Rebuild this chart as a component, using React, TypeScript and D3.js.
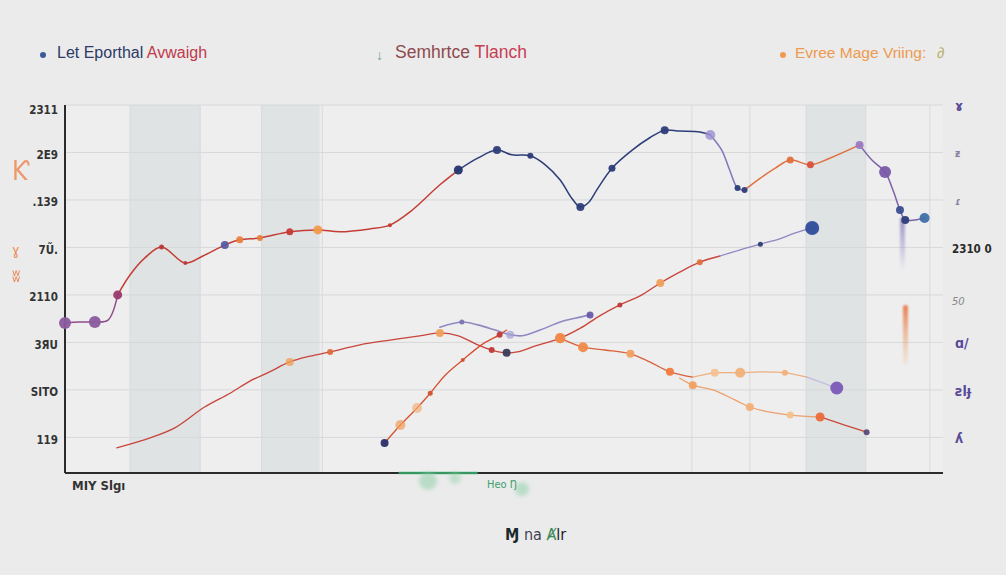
import React from "react";
import * as d3 from "d3";

// ---------- DATA ----------
const yTickValues = [7, 6, 5, 4, 3, 2, 1, 0];
const yTickLabels = ["2311", "2E9", ".139", "7Ũ.", "2110", "3ЯU", "SITO", "119"];
const rightLabels = ["2310 0", "50"];
const rightLabelValues = [3.95, 2.85];
const bandRanges: [number, number][] = [[7.4, 15.4], [22.4, 29.0], [84.4, 91.2]];
const vGridValues = [7.4, 15.4, 22.4, 29.3, 71.4, 78.0, 84.4, 91.2, 98.5];

const legendNames = ["Let Eporthal ", "Avwaigh", "Semhrtce ", "Tlanch", "Evree Mage Vriing:"];

const seriesTop: [number, number][] = [
  [0, 2.41], [1.7, 2.43], [3.4, 2.43], [4.9, 2.47], [6.0, 3.0], [7.4, 3.42], [9.1, 3.78],
  [11.0, 4.01], [13.7, 3.67], [15.7, 3.82], [18.2, 4.05], [19.9, 4.16], [22.2, 4.2],
  [25.6, 4.33], [28.8, 4.37], [31.3, 4.33], [34.7, 4.39], [37.0, 4.47], [39.3, 4.75],
  [42.7, 5.32], [44.8, 5.63], [47.0, 5.88], [49.2, 6.05], [50.9, 5.95], [53.0, 5.93],
  [54.7, 5.74], [56.4, 5.42], [57.7, 5.04], [58.7, 4.85], [59.6, 4.94], [60.7, 5.25],
  [62.3, 5.67], [64.6, 6.05], [66.6, 6.31], [68.3, 6.47], [70.0, 6.45], [72.3, 6.43],
  [73.5, 6.37], [74.8, 6.05], [75.7, 5.63], [76.6, 5.25], [77.4, 5.21], [79.2, 5.46],
  [80.9, 5.67], [82.6, 5.84], [84.9, 5.74], [87.1, 5.88], [90.5, 6.16], [91.9, 5.84],
  [93.4, 5.59], [94.3, 5.21], [95.1, 4.79], [95.7, 4.58], [96.8, 4.58], [97.9, 4.62],
];

const seriesRise: [number, number][] = [
  [5.9, -0.22], [9.7, -0.01], [12.5, 0.2], [15.9, 0.64], [18.8, 0.93], [21.1, 1.19],
  [23.3, 1.38], [25.6, 1.59], [27.9, 1.71], [30.2, 1.8], [33.6, 1.95], [37.0, 2.05],
  [40.4, 2.14], [42.7, 2.2], [44.8, 2.14], [47.0, 1.95], [48.6, 1.84], [50.3, 1.78],
  [51.5, 1.8], [53.5, 1.92], [56.4, 2.09], [58.7, 2.3], [60.9, 2.56], [63.2, 2.79],
  [65.5, 2.98], [67.8, 3.25], [70.0, 3.48], [72.3, 3.69], [74.6, 3.82], [76.9, 3.95],
  [79.2, 4.07], [81.4, 4.18], [83.1, 4.3], [85.1, 4.41],
];

const seriesPurple: [number, number][] = [
  [42.7, 2.32], [45.2, 2.43], [47.0, 2.37], [49.0, 2.26], [50.7, 2.16], [52.1, 2.14],
  [54.1, 2.26], [56.4, 2.43], [58.1, 2.51], [59.8, 2.58],
];

const seriesSteep: [number, number][] = [
  [36.4, -0.12], [38.2, 0.26], [40.1, 0.62], [41.6, 0.93], [43.3, 1.31], [45.3, 1.63],
  [47.6, 1.97], [49.5, 2.16], [50.3, 2.26],
];

const seriesFall: [number, number][] = [
  [56.4, 2.09], [59.0, 1.9], [61.5, 1.84], [64.4, 1.76], [66.6, 1.59], [68.9, 1.38],
  [71.5, 1.27], [74.0, 1.36], [76.9, 1.36], [79.2, 1.38], [82.0, 1.36], [84.5, 1.27],
  [87.9, 1.04],
];

const seriesBranch: [number, number][] = [
  [70.0, 1.25], [71.5, 1.1], [73.8, 1.0], [76.3, 0.79], [78.0, 0.64], [80.3, 0.53],
  [82.6, 0.47], [86.0, 0.43], [88.8, 0.26], [91.3, 0.11],
];

// ---------- STYLE ----------
type Seg = { from: number; to: number; color: string; opacity?: number };
type Mark = { i: number; r: number; color: string; opacity?: number };
type SeriesStyle = { data: [number, number][]; segs: Seg[]; marks: Mark[]; width: number };

const styles: SeriesStyle[] = [
  {
    data: seriesTop,
    width: 1.5,
    segs: [
      { from: 0, to: 4, color: "#8e4f8a" },
      { from: 4, to: 20, color: "#c43e35" },
      { from: 20, to: 37, color: "#2d3d78" },
      { from: 37, to: 41, color: "#7e77b8" },
      { from: 41, to: 47, color: "#e0703e" },
      { from: 47, to: 54, color: "#7c63a8" },
    ],
    marks: [
      { i: 0, r: 6, color: "#8a5a9e" }, { i: 2, r: 6, color: "#8a5a9e" },
      { i: 4, r: 4.5, color: "#9a3a6a" }, { i: 7, r: 2.5, color: "#b83a3a" },
      { i: 8, r: 2, color: "#b83a3a" }, { i: 10, r: 4, color: "#5a5aa0" },
      { i: 11, r: 3.5, color: "#e9803e" }, { i: 12, r: 3, color: "#e9803e" },
      { i: 13, r: 3.5, color: "#c63a35" }, { i: 14, r: 4.5, color: "#f09a4a" },
      { i: 17, r: 2, color: "#c63a35" }, { i: 20, r: 4.5, color: "#22336e" },
      { i: 22, r: 4, color: "#2d3d78" }, { i: 24, r: 3, color: "#2d3d78" },
      { i: 28, r: 4, color: "#2d3d78" }, { i: 31, r: 3.5, color: "#2d3d78" },
      { i: 34, r: 4, color: "#2d3d78" }, { i: 37, r: 5, color: "#9c8ed0", opacity: 0.8 },
      { i: 40, r: 3, color: "#2d3d78" }, { i: 41, r: 3, color: "#2d3d78" },
      { i: 44, r: 3.5, color: "#e0703e" }, { i: 45, r: 3.5, color: "#d9503a" },
      { i: 47, r: 4, color: "#9a7ac0" }, { i: 49, r: 6, color: "#7a58a8" },
      { i: 51, r: 4, color: "#3a4f8f" }, { i: 52, r: 4, color: "#2d3d78" },
      { i: 54, r: 5, color: "#3f6fa8" },
    ],
  },
  {
    data: seriesRise,
    width: 1.3,
    segs: [
      { from: 0, to: 28, color: "#c9443a" },
      { from: 28, to: 33, color: "#8e88c0" },
    ],
    marks: [
      { i: 7, r: 4, color: "#f0a05a", opacity: 0.8 }, { i: 9, r: 3, color: "#e06a3a" },
      { i: 13, r: 4, color: "#f0a05a" }, { i: 16, r: 3, color: "#c03a3a" },
      { i: 17, r: 4, color: "#3a3a5a" }, { i: 20, r: 5, color: "#f08a4a" },
      { i: 23, r: 2.5, color: "#c03a3a" }, { i: 25, r: 4, color: "#f0a05a" },
      { i: 27, r: 3, color: "#e0703e" }, { i: 30, r: 2.5, color: "#2d3d78" },
      { i: 33, r: 7, color: "#2f4c9a" },
    ],
  },
  {
    data: seriesPurple,
    width: 1.6,
    segs: [{ from: 0, to: 9, color: "#8f89c2" }],
    marks: [
      { i: 1, r: 2.5, color: "#7a74b0" }, { i: 4, r: 4, color: "#a49ed4", opacity: 0.7 },
      { i: 9, r: 3.5, color: "#6a5aa8" },
    ],
  },
  {
    data: seriesSteep,
    width: 1.3,
    segs: [{ from: 0, to: 8, color: "#d4512f" }],
    marks: [
      { i: 0, r: 4, color: "#2a2e6a" }, { i: 1, r: 5, color: "#f2a060", opacity: 0.75 },
      { i: 2, r: 5, color: "#f2b27a", opacity: 0.7 }, { i: 3, r: 2.5, color: "#d4512f" },
      { i: 5, r: 2, color: "#d4512f" }, { i: 7, r: 3, color: "#c03a3a" },
    ],
  },
  {
    data: seriesFall,
    width: 1.3,
    segs: [
      { from: 0, to: 6, color: "#d9603a" },
      { from: 6, to: 11, color: "#eeb07e" },
      { from: 11, to: 12, color: "#b9b0dc", opacity: 0.8 },
    ],
    marks: [
      { i: 0, r: 5, color: "#f08a4a" }, { i: 1, r: 5, color: "#f08a4a" },
      { i: 3, r: 4, color: "#f0a060" }, { i: 5, r: 4, color: "#f07a3e" },
      { i: 7, r: 4, color: "#f3c090" }, { i: 8, r: 5, color: "#f1b07a" },
      { i: 10, r: 3, color: "#f1b07a" }, { i: 12, r: 6.5, color: "#7a58b8" },
    ],
  },
  {
    data: seriesBranch,
    width: 1.3,
    segs: [
      { from: 0, to: 7, color: "#eca06c" },
      { from: 7, to: 9, color: "#c84a3a" },
    ],
    marks: [
      { i: 1, r: 4, color: "#f0a060" }, { i: 4, r: 4, color: "#f0b07a" },
      { i: 6, r: 3.5, color: "#f3c090" }, { i: 7, r: 4.5, color: "#ec6a3a" },
      { i: 9, r: 3, color: "#5a4a7a" },
    ],
  },
];

const W = 1006;
const H = 575;
const left = 65, right = 943, top = 105, bottom = 473;

export default function App() {
  const x = d3.scaleLinear().domain([0, 100]).range([left, right]);
  const y = d3.scaleLinear().domain([-0.75, 7]).range([bottom, top]);
  const line = d3
    .line<[number, number]>()
    .x((d) => x(d[0]))
    .y((d) => y(d[1]))
    .curve(d3.curveCatmullRom.alpha(0.5));

  const tickFont = "'DejaVu Sans Condensed','Liberation Sans Narrow','Liberation Sans',sans-serif";
  const legendFont = "'Liberation Sans', Arial, sans-serif";

  return (
    <svg
      width={W}
      height={H}
      style={{ position: "absolute", left: 0, top: 0, display: "block" }}
    >
      <defs>
        <filter id="blur2" x="-50%" y="-50%" width="200%" height="200%">
          <feGaussianBlur stdDeviation="2" />
        </filter>
        <filter id="blur1" x="-50%" y="-50%" width="200%" height="200%">
          <feGaussianBlur stdDeviation="0.8" />
        </filter>
        <linearGradient id="purpleStreak" x1="0" y1="0" x2="0" y2="1">
          <stop offset="0" stopColor="#8a80c0" stopOpacity="0.8" />
          <stop offset="1" stopColor="#8a80c0" stopOpacity="0" />
        </linearGradient>
        <linearGradient id="orangeStreak" x1="0" y1="0" x2="0" y2="1">
          <stop offset="0" stopColor="#e8703a" stopOpacity="0.9" />
          <stop offset="1" stopColor="#f0c090" stopOpacity="0.2" />
        </linearGradient>
      </defs>
      <rect width={W} height={H} fill="#ebebeb" />
      <rect x={left} y={top} width={right - left} height={bottom - top} fill="#eeeeef" />

      {bandRanges.map((b, i) => (
        <rect key={i} x={x(b[0])} y={top} width={x(b[1]) - x(b[0])} height={bottom - top} fill="#dfe3e4" />
      ))}

      {yTickValues.map((v) => (
        <line key={v} x1={left} x2={right} y1={y(v)} y2={y(v)} stroke="#d6d8d9" strokeWidth={1} />
      ))}
      {vGridValues.map((v) => (
        <line key={v} x1={x(v)} x2={x(v)} y1={top} y2={bottom} stroke="#d8dadb" strokeWidth={1} />
      ))}

      {/* axes */}
      <line x1={left} x2={left} y1={top} y2={bottom} stroke="#2b2b2b" strokeWidth={2} />
      <line x1={left} x2={right} y1={bottom} y2={bottom} stroke="#2b2b2b" strokeWidth={2} />
      <line x1={x(38)} x2={x(47)} y1={bottom} y2={bottom} stroke="#3aaa6a" strokeWidth={2.5} opacity={0.85} />

      {/* tick labels */}
      {yTickValues.map((v, i) => (
        <text
          key={v}
          x={58}
          y={y(v) + (i === 0 ? 5 : 3)}
          textAnchor="end"
          dominantBaseline="middle"
          fontFamily={tickFont}
          fontSize={11.5}
          fontWeight={700}
          fill="#333"
        >
          {yTickLabels[i]}
        </text>
      ))}
      {rightLabels.map((t, i) => (
        <text
          key={t}
          x={952}
          y={y(rightLabelValues[i])}
          dominantBaseline="middle"
          fontFamily={tickFont}
          fontSize={i === 0 ? 11.5 : 11}
          fontWeight={i === 0 ? 700 : 400}
          fontStyle={i === 0 ? "normal" : "italic"}
          fill={i === 0 ? "#2a2a2a" : "#888"}
        >
          {t}
        </text>
      ))}

      {/* decorative glyphs on right side */}
      {[["ɤ", 7], ["ƶ", 6], ["ɾ", 5], ["ɑ/", 2], ["ƨlɟ", 1], ["ʎ", 0]].map(([g, v], i) => (
        <text key={i} x={955} y={y(v as number) + 2} dominantBaseline="middle" fontFamily={tickFont}
          fontSize={i === 1 || i === 2 ? 10 : 14} fontWeight={700} fill={i === 1 || i === 2 ? "#8a80a0" : "#5a4a9a"}>
          {g as string}
        </text>
      ))}
      {/* decorative glyphs on left side */}
      <text x={12} y={180} fontFamily={tickFont} fontSize={26} fill="#ee8a55" opacity={0.85}>Ƙ</text>
      <text x={12} y={255} fontFamily={tickFont} fontSize={14} fill="#ee8a55">ɣ</text>
      <text x={12} y={282} fontFamily={tickFont} fontSize={18} fill="#e8743e" opacity={0.85}>ʬ</text>

      {/* streak artifacts */}
      <rect x={900} y={218} width={5} height={52} fill="url(#purpleStreak)" filter="url(#blur1)" />
      <rect x={903} y={305} width={5} height={60} rx={2.5} fill="url(#orangeStreak)" filter="url(#blur1)" />

      {/* series */}
      {styles.map((s, si) => (
        <g key={si}>
          {s.segs.map((sg, k) => (
            <path
              key={k}
              d={line(s.data.slice(sg.from, sg.to + 1)) || ""}
              fill="none"
              stroke={sg.color}
              strokeWidth={s.width}
              strokeOpacity={sg.opacity ?? 1}
              strokeLinecap="round"
            />
          ))}
          {s.marks.map((m, k) => (
            <circle
              key={k}
              cx={x(s.data[m.i][0])}
              cy={y(s.data[m.i][1])}
              r={m.r}
              fill={m.color}
              opacity={m.opacity ?? 0.95}
            />
          ))}
        </g>
      ))}

      {/* legend */}
      <circle cx={43} cy={55} r={3} fill="#3a5a9a" />
      <text x={57} y={58} fontFamily={legendFont} fontSize={16} fill="#2b3a66">
        {legendNames[0]}
        <tspan fill="#c0394a">{legendNames[1]}</tspan>
      </text>
      <text x={376} y={60} fontFamily={legendFont} fontSize={14} fill="#6aaa90">↓</text>
      <text x={395} y={58} fontFamily={legendFont} fontSize={17.5} fill="#8e4a4e">
        {legendNames[2]}
        <tspan fill="#c83e55">{legendNames[3]}</tspan>
      </text>
      <circle cx={783} cy={55} r={3} fill="#f09a50" />
      <text x={795} y={58} fontFamily={legendFont} fontSize={15.5} fill="#ee9a50">
        {legendNames[4]}
      </text>
      <text x={937} y={58} fontFamily={legendFont} fontSize={15} fill="#b8b070">∂</text>

      {/* bottom texts */}
      <text x={72} y={490} fontFamily={tickFont} fontSize={13} fontWeight={700} fill="#333">MIY Slgı</text>
      <circle cx={428} cy={481} r={9} fill="#8fd0a8" opacity={0.55} filter="url(#blur2)" />
      <circle cx={455} cy={478} r={6} fill="#8fd0a8" opacity={0.45} filter="url(#blur2)" />
      <circle cx={522} cy={489} r={7} fill="#8fd0a8" opacity={0.55} filter="url(#blur2)" />
      <text x={487} y={488} fontFamily={tickFont} fontSize={11} fill="#3aa070">Heo Ŋ</text>
      <text x={505} y={540} fontFamily={tickFont} fontSize={16} fill="#223">
        <tspan fontWeight={700} fill="#1a2a2a">Ɱ</tspan>
        <tspan fill="#445"> na </tspan>
        <tspan fill="#3a8a5a">Ⱥ</tspan>
        <tspan fill="#222">lr</tspan>
      </text>
    </svg>
  );
}
